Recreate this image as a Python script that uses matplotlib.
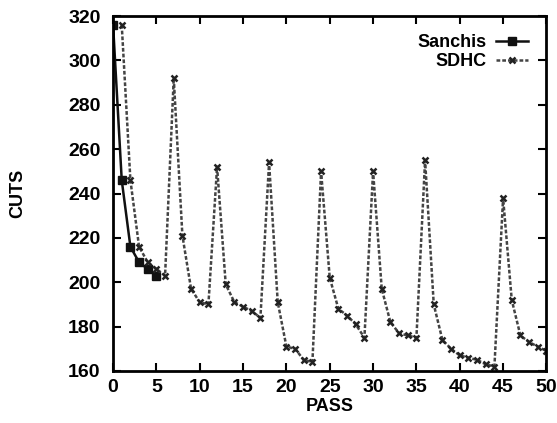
import matplotlib
matplotlib.use("Agg")
from matplotlib import pyplot as plt

# values
sanchis_pass = [0, 1, 2, 3, 4, 5]
sanchis_cuts = [316, 246, 216, 209, 206, 203]

sdhc_pass = list(range(1, 51))
sdhc_cuts = [316, 246, 216, 209, 206, 203, 292, 221, 197, 191,
             190, 252, 199, 191, 189, 187, 184, 254, 191, 171,
             170, 165, 164, 250, 202, 188, 185, 181, 175, 250,
             197, 182, 177, 176, 175, 255, 190, 174, 170, 167,
             166, 165, 163, 162, 238, 192, 176, 173, 171, 169]

xticks = list(range(0, 51, 5))
yticks = list(range(160, 321, 20))

plt.rcParams['font.family'] = ['Liberation Sans Narrow', 'Liberation Sans', 'DejaVu Sans']
plt.rcParams['font.weight'] = 'bold'

fig = plt.figure(figsize=(5.57, 4.23), dpi=100)
ax = fig.add_axes([0.203, 0.123, 0.778, 0.839])

ax.plot(sanchis_pass, sanchis_cuts, color='#111111', lw=1.8, marker='s',
        ms=6, mfc='#111111', mec='#111111', label='Sanchis')
ax.plot(sdhc_pass, sdhc_cuts, color='#444444', lw=1.8, ls=(0, (1.5, 0.8)),
        marker='x', ms=5, mew=1.8, mec='#222222', label='SDHC')

ax.set_xlim(0, 50)
ax.set_ylim(160, 320)
ax.set_xticks(xticks)
ax.set_yticks(yticks)
ax.tick_params(axis='both', direction='in', length=6, width=1.5, top=True,
               right=True, labelsize=14)
ax.tick_params(axis='x', pad=6)
ax.tick_params(axis='y', pad=9)
for lab in ax.get_xticklabels() + ax.get_yticklabels():
    lab.set_fontweight('bold')
for s in ax.spines.values():
    s.set_linewidth(2)

ax.set_xlabel("PASS", fontsize=13, fontweight='bold', labelpad=1)
ax.set_ylabel("CUTS", fontsize=13, fontweight='bold', labelpad=30)

leg = ax.legend(loc='upper right', frameon=False, markerfirst=False,
                fontsize=13, handlelength=1.8, handletextpad=0.5,
                labelspacing=0.1, borderaxespad=0.6)
for t in leg.get_texts():
    t.set_fontweight('bold')

fig.savefig("out.png", dpi=100)
